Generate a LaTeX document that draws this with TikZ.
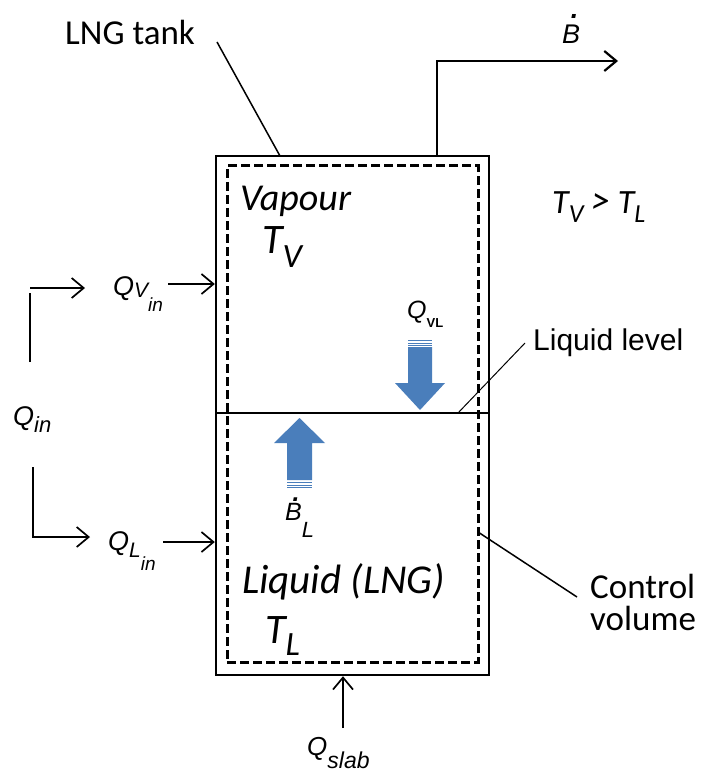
\documentclass[tikz,border=0pt]{standalone}
\usepackage{fontspec}
\setmainfont{Carlito}
\newfontfamily\arialfont{Liberation Sans}
\usepackage{tikz}
\usetikzlibrary{arrows.meta, positioning}
\definecolor{myblue}{RGB}{74,126,187}
\newcommand{\fsz}[1]{\fontsize{#1}{#1}\selectfont}
\tikzstyle{arrow} = [line width=1.7pt, -{Straight Barb[length=12pt,width=20pt]}]
\tikzstyle{wall} = [line width=2.4pt]
\tikzstyle{cv} = [line width=3pt, dash pattern=on 9pt off 4pt]
\tikzstyle{leader} = [line width=1.5pt]
\tikzstyle{lbl} = [anchor=base west, inner sep=0pt]

\begin{document}
\begin{tikzpicture}[x=1pt, y=-1pt]
    \useasboundingbox (0,0) rectangle (701,778);
    % tank and control volume
    \node[draw, wall, minimum width=273pt, minimum height=519pt, inner sep=0pt] (tank) at (352.5,415.5) {};
    \node[draw, cv, minimum width=251pt, minimum height=496pt, inner sep=0pt] (cvol) at (352.5,414) {};
    \coordinate (lvl) at (216,413);
    \draw[wall] (lvl) -- (lvl -| tank.east);

    % labels
    \node[lbl, font=\fsz{35}] (lngtank) at (65,45) {LNG tank};
    \node[lbl, font=\fsz{38}\itshape] (vapour) at (240,210) {Vapour};
    \node[lbl, font=\fsz{42}\itshape] (tv) at (262,253) {T\raisebox{-14pt}{\fsz{34}V}};
    \node[lbl, font=\fsz{34}\itshape] (tvtl) at (552,213) {T\raisebox{-9pt}{\fsz{26}V} {\fsz{38}>} T\raisebox{-9pt}{\fsz{26}L}};
    \node[lbl, font=\fsz{41}\itshape] (liquid) at (242,593) {Liquid (LNG)};
    \node[lbl, font=\fsz{42}\itshape] (tl) at (265,643) {T\raisebox{-12pt}{\fsz{34}L}};
    \node[lbl, font=\arialfont\fsz{30}] (liqlevel) at (533,350) {Liquid level};
    \node[lbl, font=\fsz{35}] (ctrl) at (590,598) {Control};
    \node[lbl, font=\fsz{35}] (vol) at (590,630) {volume};

    \node[lbl, font=\arialfont\itshape\fsz{27}] (qvin) at (113,295) {Q\raisebox{-2pt}{\fsz{21}V}\raisebox{-16pt}{\fsz{19}in}};
    \node[lbl, font=\arialfont\itshape\fsz{27}] (qin) at (13,425) {Q\raisebox{-7pt}{\fsz{22}in}};
    \node[lbl, font=\arialfont\itshape\fsz{27}] (qlin) at (108,550) {Q\raisebox{-7pt}{\fsz{21}L}\raisebox{-20pt}{\fsz{19}in}};
    \node[lbl, font=\arialfont\itshape\fsz{25}] (qvl) at (407,318) {Q\raisebox{-9pt}{\upshape\bfseries\fsz{13}VL}};
    \node[lbl, font=\arialfont\itshape\fsz{25}] (bl) at (285,520) {\rlap{\hspace{0.3em}\raisebox{0.76em}{\bfseries .}}B\raisebox{-17pt}{\fsz{22}L}};
    \node[lbl, font=\arialfont\itshape\fsz{27}] (bout) at (562,44) {\rlap{\hspace{0.32em}\raisebox{0.95em}{\bfseries .}}B};
    \node[lbl, font=\arialfont\itshape\fsz{26}] (qslab) at (307,755) {Q\raisebox{-13pt}{\fsz{23}slab}};

    % heat flows
    \coordinate (vin) at (168,284);
    \coordinate (lin) at (163,542);
    \coordinate (slab) at (343,728);
    \draw[arrow] (vin) -- (vin -| tank.west);
    \draw[arrow] (lin) -- (lin -| tank.west);
    \draw[arrow] (slab) -- (slab |- tank.south);
    \draw[line width=1.7pt] (30,362) -- (30,293);
    \draw[arrow] (30,288) -- (85,288);
    \draw[arrow] (33,467) -- (33,537) -- (90,537);

    % boil-off out
    \coordinate (pipe) at (437,61);
    \draw[arrow, line width=2.2pt] (pipe |- tank.north) -- (pipe) -- (618,61);

    % leaders
    \draw[leader] (217,42) -- (280,156);
    \draw[leader, line width=1pt] (458,413) -- (525,343);
    \draw[leader] (478,532) -- (577,597);

    % blue arrows
    \fill[myblue] (408,347) -- (432,347) -- (432,383) -- (445,383) -- (420,410) -- (395,383) -- (408,383) -- cycle;
    \foreach \s in {340.5,343,345.5}
        \draw[myblue, line width=1pt] (408,\s) -- (432,\s);
    \fill[myblue] (287,480) -- (312,480) -- (312,443) -- (325,443) -- (299.5,418) -- (274,443) -- (287,443) -- cycle;
    \foreach \s in {482.5,485,487.5}
        \draw[myblue, line width=1pt] (287,\s) -- (312,\s);
\end{tikzpicture}
\end{document}
